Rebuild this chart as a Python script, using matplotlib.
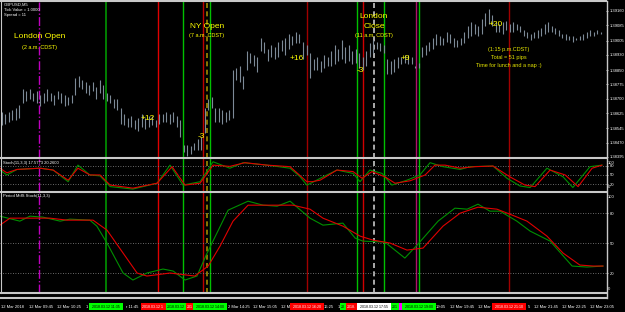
import numpy as np
import matplotlib.pyplot as plt
from matplotlib.lines import Line2D
from matplotlib.patches import Rectangle

plt.rcParams['font.family'] = ['Liberation Sans', 'DejaVu Sans']

# GBPUSD M5 bars, high / low in pips above 1.3840
high_pips = [23, 22, 23, 24, 25, 27, 35, 34, 35, 33, 34, 32, 33, 35, 33, 32, 34, 33, 32, 31,
             32, 41, 42, 40, 39, 37, 39, 36, 40, 37, 33, 32, 30, 30, 25, 22, 20, 21, 19, 20,
             22, 20, 21, 21, 19, 22, 22, 23, 22, 23, 21, 19, 6, 6, 5, 7, 9, 10, 25, 30,
             31, 25, 25, 24, 23, 24, 45, 46, 47, 42, 55, 54, 53, 52, 62, 60, 56, 58, 57, 60,
             61, 62, 64, 63, 65, 64, 60, 58, 54, 51, 52, 50, 53, 52, 55, 58, 56, 61, 57, 58,
             55, 56, 54, 52, 55, 59, 61, 60, 59, 58, 51, 50, 51, 52, 52, 53, 53, 52, 47, 49,
             57, 58, 60, 62, 64, 63, 62, 65, 64, 62, 61, 62, 65, 68, 70, 69, 68, 72, 75, 77,
             74, 70, 69, 70, 71, 69, 70, 69, 68, 66, 65, 64, 65, 66, 67, 69, 70, 68, 67, 66,
             64, 64, 63, 63, 62, 63, 64, 65, 66, 65, 66, 65]
low_pips = [16, 17, 18, 19, 19, 20, 28, 29, 30, 29, 28, 26, 28, 29, 29, 27, 30, 28, 26, 27,
            28, 32, 36, 35, 33, 32, 34, 30, 33, 30, 29, 28, 25, 24, 17, 16, 15, 15, 14, 13,
            15, 14, 15, 16, 15, 17, 18, 18, 17, 18, 15, 10, 2, 0, 1, 3, 3, 3, 12, 24,
            25, 18, 18, 17, 18, 19, 20, 40, 39, 35, 45, 49, 47, 44, 55, 54, 50, 52, 51, 52,
            55, 53, 56, 58, 59, 59, 51, 53, 41, 45, 45, 44, 46, 47, 47, 48, 50, 51, 49, 50,
            48, 49, 46, 45, 47, 52, 54, 56, 55, 54, 43, 43, 44, 46, 48, 49, 48, 48, 46, 46,
            52, 53, 55, 56, 58, 58, 58, 60, 59, 57, 57, 58, 59, 62, 63, 64, 63, 64, 68, 69,
            68, 65, 65, 64, 66, 65, 65, 66, 65, 63, 62, 61, 62, 62, 63, 64, 65, 65, 64, 63,
            62, 61, 61, 60, 61, 61, 61, 62, 63, 63, 64, 64]

price_ticks = [1.39160, 1.39085, 1.39005, 1.38930, 1.38850, 1.38775,
               1.38700, 1.38625, 1.38545, 1.38470, 1.38395]

# Stoch(11,3,3) on M5: main (green) and signal (red)
s1_green_x = [-0.6, 1.4, 4.3, 10.9, 14.6, 18.9, 21.7, 25.1, 28, 30.9, 37.4, 44.3, 48, 51.7, 56.6,
              60.3, 65.1, 68.9, 75.7, 82.3, 85.1, 87.1, 88.6, 90.9, 95.7, 100.3, 102.3, 105.1,
              108.6, 111.4, 115.7, 119.4, 122.3, 126, 130.9, 133.7, 140.3, 144.3, 148, 150.9,
              155.7, 160.3, 163.1, 168, 171.4]
s1_green = [66, 50, 68, 72, 66, 28, 82, 50, 47, 12, 4, 23, 82, 17, 28, 93, 72, 90, 82, 72,
            45, 17, 25, 39, 66, 55, 28, 66, 55, 17, 33, 50, 90, 77, 68, 77, 79, 39, 14, 9,
            72, 44, 9, 77, 82]
s1_red_x = [-0.6, 1.4, 4.3, 10.9, 14.6, 18.9, 21.7, 25.1, 28, 30.9, 37.4, 44.3, 48.6, 52.3, 56.6,
            60.3, 65.1, 69.4, 75.7, 82.3, 87.1, 88.6, 90.9, 95.7, 100.3, 102.9, 105.7, 109.4,
            112.3, 116.6, 120.9, 123.7, 126.6, 130.9, 135.1, 140.3, 145.1, 149.4, 152.3, 156.6,
            160.9, 164.6, 168.6, 171.4]
s1_red = [72, 57, 68, 72, 66, 33, 72, 50, 50, 17, 7, 23, 77, 17, 23, 82, 78, 90, 82, 77,
          28, 28, 33, 66, 61, 39, 61, 44, 23, 31, 50, 82, 82, 72, 77, 79, 44, 17, 12, 66,
          50, 12, 72, 82]

# Period MtfS Stoch(11,3,3)
s2_green_x = [-0.6, 5.1, 8, 11.7, 16.6, 19.4, 25.1, 27.1, 30, 34.6, 37.4, 41.4, 46, 48.9, 52.3,
              55.7, 58.6, 61.4, 64.6, 70.3, 74.6, 78.6, 82.3, 88, 91.7, 97.4, 100.9, 103.1,
              109.4, 115.1, 118.6, 124.6, 129.4, 132.9, 136, 139.4, 142.3, 147.1, 150.9, 156.6,
              162.9, 167.1, 171.7]
s2_green = [77, 72, 77, 76, 72, 74, 73, 67, 50, 20, 13, 20, 24, 22, 13, 17, 40, 60, 83, 92,
            88, 87, 92, 75, 68, 70, 55, 52, 51, 35, 48, 72, 85, 84, 89, 82, 82, 72, 62, 52,
            27, 26, 27]
s2_red_x = [-0.6, 2.3, 8, 13.7, 18.6, 26, 30, 34.6, 38.6, 41.4, 48, 55.1, 58.9, 62.3, 66,
            70.3, 75.7, 83.1, 88, 91.7, 97.4, 102.3, 106, 110.9, 115.7, 120.3, 126, 130.9,
            136, 141.4, 145.1, 150, 155.7, 160.3, 165.1, 168.9, 171.7]
s2_red = [68, 75, 75, 75, 73, 73, 63, 40, 20, 17, 20, 17, 27, 47, 72, 88, 88, 88, 84, 75,
          67, 57, 53, 50, 43, 45, 67, 80, 86, 84, 79, 72, 57, 40, 28, 27, 27]

time_labels = ['12 Mar 2018', '12 Mar 09:45', '12 Mar 10:25', '12 Mar 11:05', '12 Mar 11:45',
               '12 Mar 12:25', '12 Mar 13:05', '12 Mar 13:45', '12 Mar 14:25', '12 Mar 15:05',
               '12 Mar 15:45', '12 Mar 16:25', '12 Mar 17:05', '12 Mar 17:45', '12 Mar 18:25',
               '12 Mar 19:05', '12 Mar 19:45', '12 Mar 20:25', '12 Mar 21:05', '12 Mar 21:45',
               '12 Mar 22:25', '12 Mar 23:05']

# vertical lines drawn on the chart (bar position, colour, style)
vlines = [(10.7, '#c000c0', '-.'), (29.7, '#008000', '-'), (44.6, '#e00000', '-'),
          (51.7, '#00c000', '-'), (57.4, '#c00000', '-'), (58.6, '#a08a00', '--'),
          (59.4, '#00c000', '-'), (87.1, '#a00000', '-'), (101.4, '#00c000', '-'),
          (103.1, '#d00000', '-'), (106.3, '#c8c8c8', '--'), (109.1, '#00c000', '-'),
          (118.3, '#b0106a', '-'), (119.1, '#00c000', '-'), (144.9, '#a00000', '-')]

# labels of those lines on the time axis, in drawing order
axis_boxes = [(29.7, '#00ff00', 'black', '2018.03.12 11:35'),
              (44.6, '#ff0000', 'white', '2018.03.12 12:50'),
              (51.7, '#00ff00', 'black', '2018.03.12 13:25'),
              (57.4, '#ff0000', 'white', '2018.03.12 13:50'),
              (59.4, '#00ff00', 'black', '2018.03.12 14:00'),
              (87.1, '#ff0000', 'white', '2018.03.12 16:20'),
              (101.4, '#00ff00', 'black', '2018.03.12 17:30'),
              (103.1, '#ff0000', 'white', '2018.03.12 17:40'),
              (109.1, '#00ff00', 'black', '2018.03.12 18:10'),
              (106.3, '#ffffff', 'black', '2018.03.12 17:55'),
              (118.3, '#ff00ff', 'white', '2018.03.12 18:55'),
              (119.1, '#00ff00', 'black', '2018.03.12 19:00'),
              (144.9, '#ff0000', 'white', '2018.03.12 21:10')]

W, H = 625, 312
XR = 606  # right edge of the plot area in pixels
fig = plt.figure(figsize=(W / 100, H / 100), dpi=100, facecolor='black')


def panel(top, bottom):
    ax = fig.add_axes([0, 1 - bottom / H, XR / W, (bottom - top) / H])
    ax.set_facecolor('black')
    for s in ax.spines.values():
        s.set_visible(False)
    ax.set_xlim(-0.57, 172.57)
    ax.tick_params(axis='x', bottom=False, labelbottom=False)
    ax.yaxis.tick_right()
    ax.tick_params(axis='y', colors='white', labelsize=3, length=1.5, width=0.5, pad=1.5)
    return ax


def ftext(x, y, s, size=3, color='white', ha='left', **kw):
    fig.text(x / W, 1 - y / H, s, fontsize=size, color=color, ha=ha, va='center', **kw)


ax_main = panel(1.5, 157.5)
ax_s1 = panel(159, 191)
ax_s2 = panel(193, 292.5)

# vertical lines through all windows
for ax in (ax_main, ax_s1, ax_s2):
    for pos, col, ls in vlines:
        lw = 1.4 if col == '#008000' else 1.0
        if ls == '--':
            ax.axvline(pos, color=col, lw=1.2, ls=(0, (3, 2)))
        else:
            ax.axvline(pos, color=col, lw=lw, ls=ls)

# price bars
bars = np.arange(len(high_pips))
high = 1.3840 + np.array(high_pips) / 10000
low = 1.3840 + np.array(low_pips) / 10000
ax_main.vlines(bars, low, high, color='#7d8a97', lw=0.8, zorder=3)
ax_main.set_ylim(1.383923, 1.392097)
ax_main.set_yticks(price_ticks)
ax_main.set_yticklabels([f'{p:.5f}' for p in price_ticks])

# stochastics
for ax, gx, g, rx, r in ((ax_s1, s1_green_x, s1_green, s1_red_x, s1_red),
                         (ax_s2, s2_green_x, s2_green, s2_red_x, s2_red)):
    for lv in (80, 50, 20):
        ax.axhline(lv, color='#8c8c8c', lw=0.6, ls=(0, (1, 2)))
    ax.plot(gx, g, color='#009000', lw=0.8, zorder=3)
    ax.plot(rx, r, color='#e00000', lw=0.8, zorder=4)
    ax.set_yticks([80, 50, 20])
    ax.set_yticklabels(['80', '50', '20'])
ax_s1.set_ylim(-2.3, 102)
ax_s2.set_ylim(0.5, 100.2)
ftext(608, 162.7, '100')
ftext(608, 187.5, '0')
ftext(608, 196.5, '100')
ftext(608, 289.5, '0')


# window frames
def hline(y, lw=1.5):
    fig.add_artist(Line2D([0, XR / W], [1 - y / H] * 2, color='#c8c8c8', lw=lw))


for y in (1, 158.3, 191.8, 293, 297.5):
    hline(y)
fig.add_artist(Line2D([(XR + 0.5) / W] * 2, [1 - 0.5 / H, 1 - 298 / H], color='#c8c8c8', lw=1))
fig.add_artist(Line2D([0.5 / W] * 2, [1 - 1 / H, 1 - 293 / H], color='#c8c8c8', lw=0.8))

# time axis
ax_t = fig.add_axes([0, 0, XR / W, 14 / H])
ax_t.set_facecolor('black')
ax_t.axis('off')
ax_t.set_xlim(-0.57, 172.57)
ax_t.set_ylim(0, 1)


def to_px(bar):
    return 2 + 3.5 * bar


def to_bar(px):
    return (px - 2) / 3.5


def uncovered(a, b, covers):
    parts = [(a, b)]
    for c0, c1 in covers:
        new = []
        for p0, p1 in parts:
            if c1 <= p0 or c0 >= p1:
                new.append((p0, p1))
                continue
            if c0 > p0:
                new.append((p0, c0))
            if c1 < p1:
                new.append((c1, p1))
        parts = new
    return parts


box_spans = [(to_px(b[0]) - 17, to_px(b[0]) + 17) for b in axis_boxes]

# time labels, only the part that is not hidden under a line label
for k, lab in enumerate(time_labels):
    t0 = to_px(k * 8) - 0.5
    t1 = t0 + 2.05 * len(lab)
    for p0, p1 in uncovered(t0, t1, box_spans):
        if (p0, p1) == (t0, t1):
            ax_t.text(to_bar(p0), 0.36, lab, fontsize=3, color='white', ha='left', va='center')
            continue
        n = int((p1 - p0) / 2.05 + 0.01)
        if n < 1:
            continue
        if p0 == t0:
            ax_t.text(to_bar(p0), 0.36, lab[:n], fontsize=3, color='white', ha='left', va='center')
        else:
            ax_t.text(to_bar(p1), 0.36, lab[-n:], fontsize=3, color='white', ha='right', va='center')

for n, (pos, fill, tc, lab) in enumerate(axis_boxes):
    ax_t.add_patch(Rectangle((pos - 4.85, 0.14), 9.7, 0.47, facecolor=fill, edgecolor='none',
                             zorder=2 + n))
    b0, b1 = box_spans[n]
    parts = uncovered(b0, b1, box_spans[n + 1:])
    if not parts:
        continue
    p0, p1 = parts[0]
    if (p0, p1) == (b0, b1):
        ax_t.text(pos, 0.37, lab, fontsize=2.6, color=tc, ha='center', va='center', zorder=2 + n)
    else:
        m = int((p1 - p0 - 1) / 1.85)
        if m >= 2:
            ax_t.text(to_bar(p0 + 0.5), 0.37, lab[:m], fontsize=2.6, color=tc, ha='left',
                      va='center', zorder=2 + n)

# info text
ftext(4, 4.3, 'GBPUSD,M5')
ftext(4, 10, 'Tick Value = 1.0000')
ftext(4, 15, 'Spread = 11')
ftext(3, 163.3, 'Stoch(11,3,3) 17.5773 20.2600')
ftext(3, 196, 'Period MtfS Stoch(11,3,3)')

# annotations
yel = '#ffff00'
ftext(40, 37, 'London Open', 6, yel, 'center')
ftext(40, 47, '(2 a.m. CDST)', 4, yel, 'center')
ftext(207, 26, 'NY Open', 6, yel, 'center')
ftext(207, 36, '(7 a.m. CDST)', 4, yel, 'center')
ftext(374, 16, 'London', 6, yel, 'center')
ftext(374, 26, 'Close', 6, yel, 'center')
ftext(374, 35, '(11 a.m. CDST)', 4, yel, 'center')
ftext(148, 118, '+12', 6, yel, 'center')
ftext(201, 137, '-3', 6, yel, 'center')
ftext(297, 59, '+16', 6, yel, 'center')
ftext(360, 71, '-3', 6, yel, 'center')
ftext(405, 58, '+9', 6, yel, 'center')
ftext(496, 24, '+20', 6, yel, 'center')
ftext(509, 49, '(1:15 p.m.CDST)', 4, '#e6e600', 'center')
ftext(509, 57, 'Total = 51 pips', 4, '#e6e600', 'center')
ftext(509, 66, 'Time for lunch and a nap :)', 4, '#e6e600', 'center')

fig.savefig('out.png', dpi=100, facecolor='black')
